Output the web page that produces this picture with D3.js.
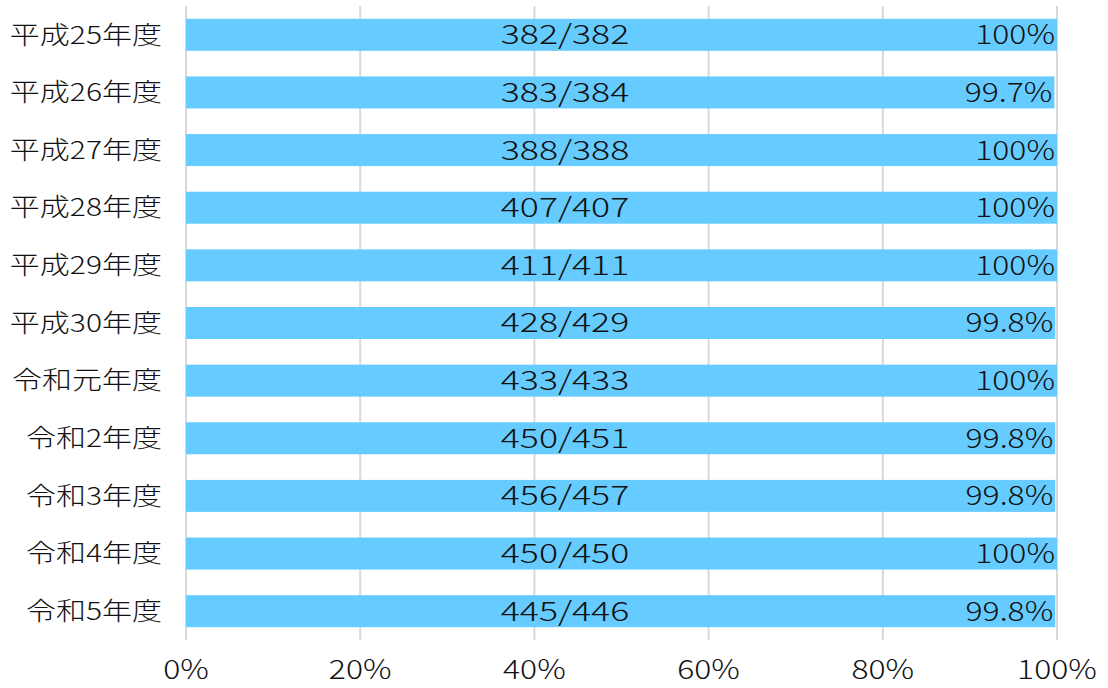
<!DOCTYPE html>
<html>
<head>
<meta charset="utf-8">
<script src="https://cdn.jsdelivr.net/npm/d3@7"></script>
<style>
  html, body { margin: 0; padding: 0; background: #fff; }
  svg text { font-family: "Noto Sans CJK JP", "Noto Sans", sans-serif; font-weight: 300; fill: #111; }
</style>
</head>
<body>
<svg id="chart" width="1108" height="688"></svg>
<script>
// Fiscal years (top to bottom)
const years = ["平成25年度", "平成26年度", "平成27年度", "平成28年度", "平成29年度", "平成30年度",
               "令和元年度", "令和2年度", "令和3年度", "令和4年度", "令和5年度"];
// Achieved count / target count
const achieved = [382, 383, 388, 407, 411, 428, 433, 450, 456, 450, 445];
const totals   = [382, 384, 388, 407, 411, 429, 433, 451, 457, 450, 446];
// Rate shown at the end of each bar (%)
const rates    = [100, 99.7, 100, 100, 100, 99.8, 100, 99.8, 99.8, 100, 99.8];
// Axis ticks (%)
const ticks    = [0, 20, 40, 60, 80, 100];

const svg = d3.select("#chart");
const x = d3.scaleLinear().domain([0, 100]).range([186, 1057]);
const y = d3.scaleBand().domain(years).range([6, 640]).paddingInner(0.445).paddingOuter(0.2225);

// stretch text horizontally for the wide-digit look
function widen(sel, factor) {
  sel.each(function () {
    const w = this.getComputedTextLength();
    d3.select(this).attr("textLength", w * factor).attr("lengthAdjust", "spacingAndGlyphs");
  });
}

// vertical gridlines
svg.append("g").selectAll("line").data(ticks).join("line")
  .attr("x1", d => x(d)).attr("x2", d => x(d))
  .attr("y1", 6).attr("y2", 640)
  .attr("stroke", "#d9d9d9").attr("stroke-width", 2);

// bars
svg.append("g").selectAll("rect").data(years).join("rect")
  .attr("x", x(0))
  .attr("y", d => y(d))
  .attr("width", (d, i) => x(rates[i]) - x(0))
  .attr("height", y.bandwidth())
  .attr("fill", "#66ccff");

// category labels
svg.append("g").selectAll("text").data(years).join("text")
  .attr("x", 162)
  .attr("y", d => y(d) + y.bandwidth() / 2)
  .attr("dy", "0.35em")
  .attr("text-anchor", "end")
  .attr("font-size", 25)
  .text(d => d)
  .call(widen, 1.2);

// count labels
svg.append("g").selectAll("text").data(years).join("text")
  .attr("x", 565)
  .attr("y", d => y(d) + y.bandwidth() / 2)
  .attr("dy", "0.35em")
  .attr("text-anchor", "middle")
  .attr("font-size", 27)
  .text((d, i) => `${achieved[i]}/${totals[i]}`)
  .call(widen, 1.32);

// rate labels
svg.append("g").selectAll("text").data(years).join("text")
  .attr("x", (d, i) => x(rates[i]) - 2)
  .attr("y", d => y(d) + y.bandwidth() / 2)
  .attr("dy", "0.35em")
  .attr("text-anchor", "end")
  .attr("font-size", 27)
  .text((d, i) => `${rates[i]}%`)
  .call(widen, 1.18);

// x axis tick labels
svg.append("g").selectAll("text").data(ticks).join("text")
  .attr("x", d => x(d))
  .attr("y", 670)
  .attr("dy", "0.35em")
  .attr("text-anchor", "middle")
  .attr("font-size", 27)
  .text(d => `${d}%`)
  .call(widen, 1.18);
</script>
</body>
</html>
